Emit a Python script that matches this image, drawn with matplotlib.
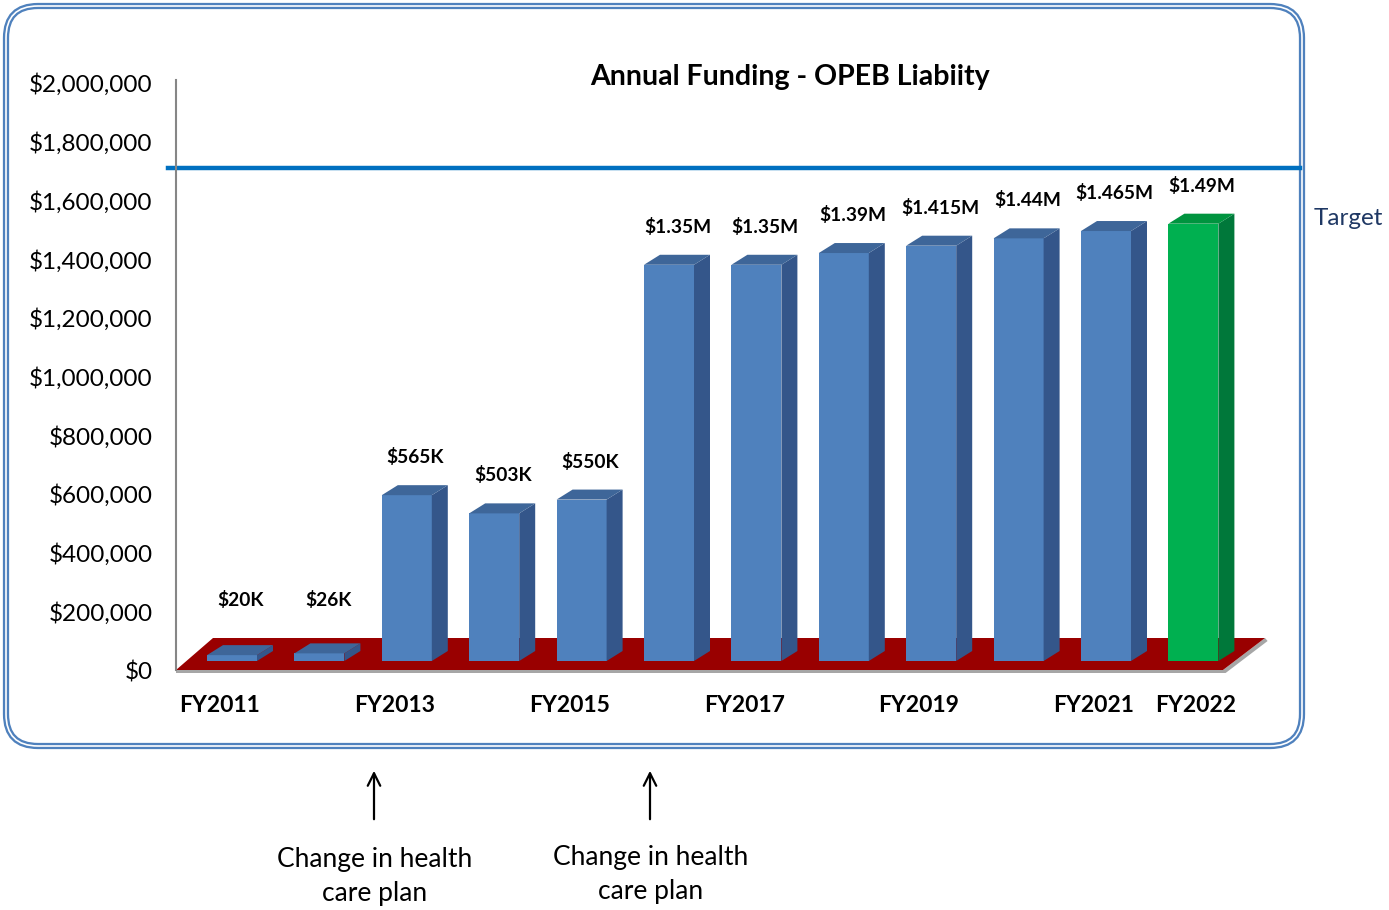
import matplotlib.pyplot as plt
from matplotlib.patches import FancyBboxPatch, Polygon

plt.rcParams["font.family"] = ["Lato", "DejaVu Sans"]

# data
years = ["FY2011", "FY2012", "FY2013", "FY2014", "FY2015", "FY2016",
         "FY2017", "FY2018", "FY2019", "FY2020", "FY2021", "FY2022"]
funding = [20000, 26000, 565000, 503000, 550000, 1350000,
           1350000, 1390000, 1415000, 1440000, 1465000, 1490000]
value_labels = ["$20K", "$26K", "$565K", "$503K", "$550K", "$1.35M",
                "$1.35M", "$1.39M", "$1.415M", "$1.44M", "$1.465M", "$1.49M"]
shown_years = ["FY2011", "FY2013", "FY2015", "FY2017", "FY2019", "FY2021", "FY2022"]
target = 1710000
y_ticks = [0, 200000, 400000, 600000, 800000, 1000000,
           1200000, 1400000, 1600000, 1800000, 2000000]
notes = ["Change in health\ncare plan", "Change in health\ncare plan"]

BLUE_FRONT, BLUE_SIDE, BLUE_TOP = "#4F81BD", "#34568A", "#3E6699"
GREEN_FRONT, GREEN_SIDE, GREEN_TOP = "#00B050", "#00783A", "#00943F"
FLOOR = "#990000"

W, H = 1389, 910
fig = plt.figure(figsize=(W / 100, H / 100), dpi=100)

# background layer in pixel units for frame and notes
bg = fig.add_axes([0, 0, 1, 1])
bg.set_xlim(0, W)
bg.set_ylim(H, 0)
bg.axis("off")
frame = dict(boxstyle="round,pad=0,rounding_size=32", facecolor="none")
bg.add_patch(FancyBboxPatch((6, 6), 1296, 740, edgecolor="#4F81BD", linewidth=4.5, **frame))
bg.add_patch(FancyBboxPatch((6, 6), 1296, 740, edgecolor="white", linewidth=1.2, **frame))

for x_note, y_note, text in zip([375, 651], [877, 874], notes):
    bg.annotate("", xy=(x_note - 1, 768), xytext=(x_note - 1, 822),
                arrowprops=dict(arrowstyle="->,head_length=0.9,head_width=0.45",
                                color="black", lw=1.6))
    bg.text(x_note, y_note, text, ha="center", va="center", fontsize=19,
            linespacing=1.45, color="black")

# main chart
ax = fig.add_axes([176 / W, 1 - 670 / H, 1124 / W, 587 / H])
ax.set_facecolor("none")
ax.set_ylim(0, 2000000)
step = 87.4
xmin = -(232 - 176) / step
xmax = xmin + 1124 / step
ax.set_xlim(xmin, xmax)

dx = 16 / step
dy = 10 / 587 * 2000000
base = 9 / 587 * 2000000
width = 50 / step

# floor
floor_front_r = xmin + (1223 - 176) / step
floor_back_l = xmin + 37 / step
floor_back_r = xmin + (1265 - 176) / step
floor_h = 32 / 587 * 2000000
shadow = 3 / 587 * 2000000
ax.add_patch(Polygon([(xmin, -shadow), (floor_front_r + 0.03, -shadow),
                      (floor_back_r + 0.03, floor_h - shadow), (floor_back_r, floor_h),
                      (floor_front_r, 0), (xmin, 0)],
                     closed=True, facecolor="#A6A6A6", edgecolor="none", clip_on=False))
ax.add_patch(Polygon([(xmin, 0), (floor_front_r, 0), (floor_back_r, floor_h),
                      (floor_back_l, floor_h)],
                     closed=True, facecolor=FLOOR, edgecolor="none", clip_on=False))

# bars with fake depth
idx = list(range(len(years)))
for i, v in zip(idx, funding):
    last = i == len(years) - 1
    front = GREEN_FRONT if last else BLUE_FRONT
    side = GREEN_SIDE if last else BLUE_SIDE
    top = GREEN_TOP if last else BLUE_TOP
    ax.bar(i, v, width=width, bottom=base, color=front, zorder=3)
    r = i + width / 2
    l = i - width / 2
    ax.add_patch(Polygon([(r, base), (r + dx, base + dy), (r + dx, base + v + dy), (r, base + v)],
                         closed=True, facecolor=side, edgecolor="none", zorder=3))
    ax.add_patch(Polygon([(l, base + v), (l + dx, base + v + dy), (r + dx, base + v + dy), (r, base + v)],
                         closed=True, facecolor=top, edgecolor="none", zorder=3))

for i, v, lab in zip(idx, funding, value_labels):
    ax.text(i + 0.1, max(v + 160000, 240000), lab, ha="center", va="center",
            fontsize=13.8, fontweight="bold", color="black")

# target line
ax.axhline(target, xmin=-8 / 1124, xmax=1, color="#0070C0", lw=3.2, clip_on=False, zorder=2)
ax.text(1.012, (target - 170000) / 2000000, "Target", transform=ax.transAxes,
        ha="left", va="center", fontsize=17.5, color="#1F3864")

ax.set_title("Annual Funding - OPEB Liabiity", fontsize=20.5, fontweight="bold",
             x=0.546, y=1.01, pad=0, va="center")

# axes styling
ax.set_yticks(y_ticks)
ax.set_yticklabels([f"${t:,.0f}" for t in y_ticks], fontsize=17.5)
tick_pos = [years.index(y) + (0.03 if y == "FY2022" else -0.14) for y in shown_years]
ax.set_xticks(tick_pos)
ax.set_xticklabels(shown_years, fontsize=16.5, fontweight="bold")
ax.tick_params(axis="y", length=0, pad=17)
ax.tick_params(axis="x", length=0, pad=18)
for s in ["top", "right", "bottom"]:
    ax.spines[s].set_visible(False)
ax.spines["left"].set_color("#868686")
ax.spines["left"].set_linewidth(1.5)
ax.spines["left"].set_bounds(0, 2010000)

fig.savefig("out.png", dpi=100)
